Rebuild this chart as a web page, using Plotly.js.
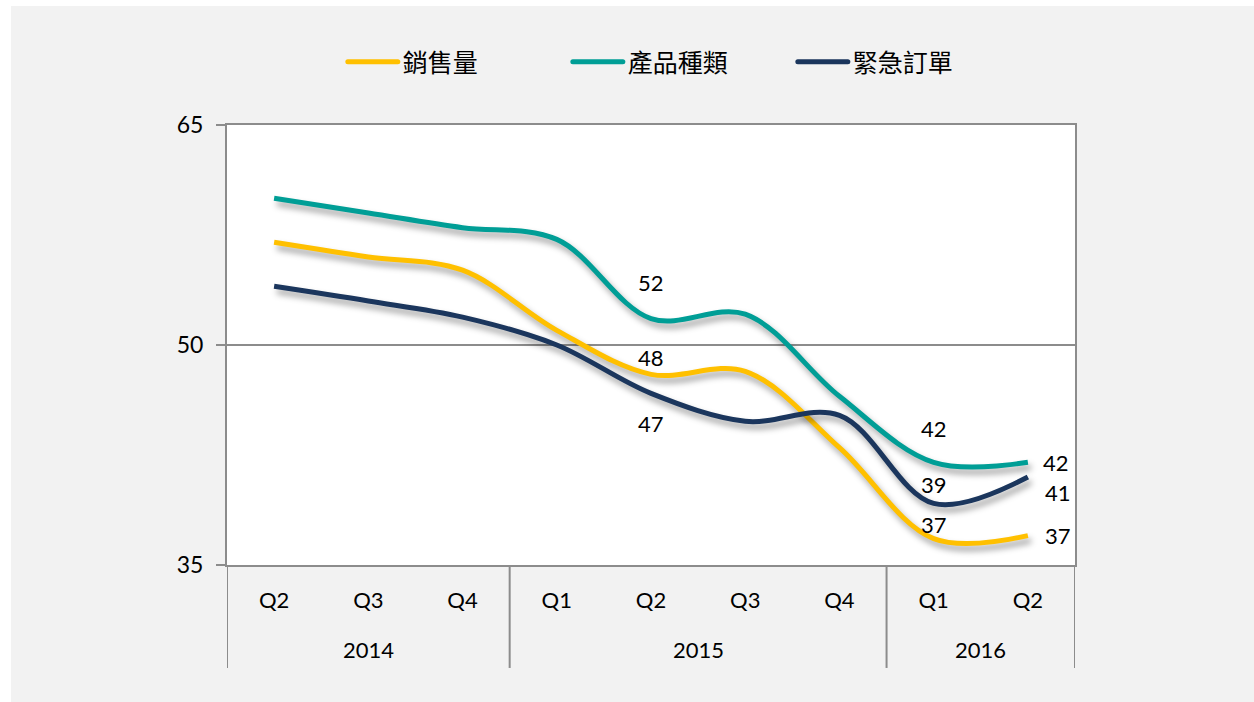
<!DOCTYPE html>
<html>
<head>
<meta charset="utf-8">
<script src="https://cdn.plot.ly/plotly-3.0.1.min.js"></script>
<style>
  html, body { margin: 0; padding: 0; background: #ffffff; width: 1254px; height: 702px; overflow: hidden; }
  #chart { position: absolute; left: 11px; top: 6px; width: 1243px; height: 696px; }
  .scatterlayer .trace path.js-line { filter: drop-shadow(3px 5px 3px rgba(0,0,0,0.38)); }
  .legend path.js-line { stroke-linecap: round; }
</style>
</head>
<body>
<div id="chart"></div>
<script>
// ---- data ----
const years    = ["2014", "2014", "2014", "2015", "2015", "2015", "2015", "2016", "2016"];
const quarters = ["Q2", "Q3", "Q4", "Q1", "Q2", "Q3", "Q4", "Q1", "Q2"];
const seriesNames = ["銷售量", "產品種類", "緊急訂單"];
const sales    = [57.0, 56.0, 55.1, 51.0, 48.0, 48.2, 43.0, 36.8, 37.0];
const products = [60.0, 59.0, 58.0, 57.2, 51.8, 52.1, 46.5, 42.0, 42.0];
const urgent   = [54.0, 53.0, 51.9, 50.0, 46.7, 44.8, 45.2, 39.2, 41.0];
const colors   = ["#FFC000", "#009E96", "#1B365D"];
const yTicks   = [35, 50, 65];
const labeledIdx = [4, 7, 8];

const font = "Lato, 'Noto Sans CJK TC', sans-serif";
const allSeries = [sales, products, urgent];
const xIdx = quarters.map((q, i) => i);

const traces = allSeries.map((vals, i) => ({
  type: "scatter",
  mode: "lines",
  name: seriesNames[i],
  x: xIdx,
  y: vals,
  line: { color: colors[i], width: 5, shape: "spline", smoothing: 1 },
  hoverinfo: "skip"
}));

// label offsets (style only): [series][labeled point] -> [xshift, yshift]
const shifts = [
  [[0, 17], [0, 14], [30, 0]],   // sales
  [[0, 36], [0, 34], [28, 0]],   // products
  [[0, -30], [0, 19], [30, -15]] // urgent
];

const annotations = [];
allSeries.forEach((vals, s) => {
  labeledIdx.forEach((idx, k) => {
    annotations.push({
      x: idx, y: vals[idx], xref: "x", yref: "y",
      text: String(Math.round(vals[idx])),
      showarrow: false,
      xshift: shifts[s][k][0], yshift: shifts[s][k][1],
      font: { family: font, size: 22, color: "#000000" }
    });
  });
});

// year groups -> labels + dividers
const groups = [];
years.forEach((y, i) => {
  if (!groups.length || groups[groups.length - 1].year !== y) groups.push({ year: y, start: i, end: i });
  else groups[groups.length - 1].end = i;
});
const shapes = [];
groups.forEach((g, gi) => {
  annotations.push({
    x: (g.start + g.end) / 2, xref: "x", y: -0.191, yref: "paper",
    yanchor: "middle", text: g.year, showarrow: false,
    font: { family: font, size: 22, color: "#000000" }
  });
  const bounds = gi === 0 ? [g.start - 0.5, g.end + 0.5] : [g.end + 0.5];
  bounds.forEach(b => shapes.push({
    type: "line", xref: "x", yref: "paper", x0: b, x1: b, y0: 0, y1: -0.234,
    line: { color: "#8C8C8C", width: 2 }
  }));
});

const layout = {
  width: 1243, height: 696,
  paper_bgcolor: "#F2F2F2",
  plot_bgcolor: "#FFFFFF",
  margin: { l: 216, r: 179, t: 119, b: 137 },
  font: { family: font, size: 22, color: "#000000" },
  showlegend: true,
  legend: {
    orientation: "h", x: 0.1366, xanchor: "left", y: 1.143, yanchor: "middle",
    font: { family: font, size: 25, color: "#000000" },
    bgcolor: "rgba(0,0,0,0)", itemwidth: 50,
    entrywidth: 160, entrywidthmode: "pixels"
  },
  xaxis: {
    range: [-0.5, quarters.length - 0.5],
    tickvals: xIdx, ticktext: quarters,
    showline: true, mirror: true, linecolor: "#8C8C8C", linewidth: 2,
    showgrid: false, zeroline: false, ticks: "",
    ticklabelstandoff: 15,
    tickfont: { family: font, size: 22, color: "#000000" }
  },
  yaxis: {
    range: [35, 65], tickvals: yTicks, ticktext: yTicks.map(String),
    showline: true, mirror: true, linecolor: "#8C8C8C", linewidth: 2,
    showgrid: true, gridcolor: "#8C8C8C", gridwidth: 1.3,
    ticks: "outside", ticklen: 9, tickcolor: "#8C8C8C", tickwidth: 2,
    zeroline: false,
    tickfont: { family: font, size: 23, color: "#000000" },
    ticklabelstandoff: 8
  },
  shapes: shapes,
  annotations: annotations
};

Plotly.newPlot("chart", traces, layout, { displayModeBar: false, staticPlot: true });
</script>
</body>
</html>
